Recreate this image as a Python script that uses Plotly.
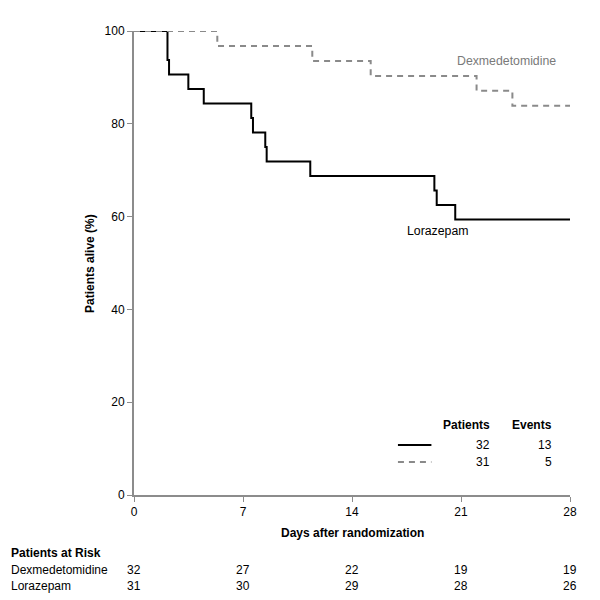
import plotly.graph_objects as go

# Kaplan-Meier steps (day, % alive after the step)
lora_days = [0, 2.15, 2.25, 3.49, 4.48, 7.53, 7.64, 8.43, 8.52, 11.32, 19.29, 19.44, 20.63, 28]
lora_surv = [100, 93.75, 90.625, 87.5, 84.375, 81.25, 78.125, 75.0, 71.875, 68.75, 65.625, 62.5, 59.375, 59.375]

dex_days = [0, 5.35, 11.45, 15.2, 22.0, 24.3, 28]
dex_surv = [100, 96.77, 93.55, 90.32, 87.10, 83.87, 83.87]

x_ticks = [0, 7, 14, 21, 28]
y_ticks = [0, 20, 40, 60, 80, 100]

risk_groups = ["Dexmedetomidine", "Lorazepam"]
risk_dex = [32, 27, 22, 19, 19]
risk_lora = [31, 30, 29, 28, 26]

legend_patients = [32, 31]
legend_events = [13, 5]

FONT = "Liberation Sans, Arial, Helvetica, sans-serif"
GREY = "#8a8a8a"
AXIS = "#8c8c8c"

fig = go.Figure()
fig.add_trace(go.Scatter(x=lora_days, y=lora_surv, mode="lines", line_shape="hv",
                         line=dict(color="black", width=2), cliponaxis=False,
                         showlegend=False, hoverinfo="skip"))
fig.add_trace(go.Scatter(x=dex_days, y=dex_surv, mode="lines", line_shape="hv",
                         line=dict(color=GREY, width=2, dash="6px,5px"), cliponaxis=False,
                         showlegend=False, hoverinfo="skip"))

ann = []
# curve labels
ann.append(dict(x=23.9, y=93.6, xref="x", yref="y", text="Dexmedetomidine", showarrow=False,
                font=dict(color="#7a7a7a", size=12.3)))
ann.append(dict(x=19.5, y=56.9, xref="x", yref="y", text="Lorazepam", showarrow=False,
                font=dict(color="black", size=12.3)))

# legend table
ann.append(dict(x=23.0, y=15.1, xref="x", yref="y", text="<b>Patients</b>", showarrow=False,
                xanchor="right", font=dict(size=12)))
ann.append(dict(x=27.0, y=15.1, xref="x", yref="y", text="<b>Events</b>", showarrow=False,
                xanchor="right", font=dict(size=12)))
row_y = [10.8, 7.1]
for i in range(2):
    ann.append(dict(x=23.0, y=row_y[i], xref="x", yref="y", text=str(legend_patients[i]),
                    showarrow=False, xanchor="right", font=dict(size=12)))
    ann.append(dict(x=27.0, y=row_y[i], xref="x", yref="y", text=str(legend_events[i]),
                    showarrow=False, xanchor="right", font=dict(size=12)))

shapes = [
    dict(type="line", xref="x", yref="y", x0=16.95, x1=19.1, y0=row_y[0], y1=row_y[0],
         line=dict(color="black", width=2)),
    dict(type="line", xref="x", yref="y", x0=16.95, x1=19.1, y0=row_y[1], y1=row_y[1],
         line=dict(color=GREY, width=2, dash="6px,5px")),
]

# axis titles
ann.append(dict(x=14, y=-0.082, xref="x", yref="paper", text="<b>Days after randomization</b>",
                showarrow=False, font=dict(size=12), yanchor="middle"))
ann.append(dict(x=-0.101, y=0.5, xref="paper", yref="paper", text="<b>Patients alive (%)</b>",
                showarrow=False, textangle=-90, xanchor="center", yanchor="middle",
                font=dict(size=12)))

# patients at risk table
left = -0.287
ann.append(dict(x=left, y=-0.125, xref="paper", yref="paper", text="<b>Patients at Risk</b>",
                showarrow=False, xanchor="left", yanchor="middle", font=dict(size=12)))
for name, vals, py in [(risk_groups[0], risk_dex, -0.162),
                       (risk_groups[1], risk_lora, -0.196)]:
    ann.append(dict(x=left, y=py, xref="paper", yref="paper", text=name, showarrow=False,
                    xanchor="left", yanchor="middle", font=dict(size=12)))
    for d, v in zip(x_ticks, vals):
        ann.append(dict(x=d, y=py, xref="x", yref="paper", text=str(v), showarrow=False,
                        xanchor="center", yanchor="middle", font=dict(size=12)))

fig.update_layout(
    width=600, height=600,
    margin=dict(l=126, r=38, t=23, b=113),
    paper_bgcolor="white", plot_bgcolor="white",
    font=dict(family=FONT, size=12, color="black"),
    annotations=ann, shapes=shapes, showlegend=False,
)
fig.update_xaxes(range=[0, 28], tickvals=x_ticks, showgrid=False, zeroline=False,
                 showline=True, linecolor=AXIS, linewidth=2, ticks="outside",
                 ticklen=5, tickcolor=AXIS, tickwidth=1, tickfont=dict(size=12))
fig.update_yaxes(range=[0, 100], tickvals=y_ticks, showgrid=False, zeroline=False,
                 showline=True, linecolor=AXIS, linewidth=2, ticks="outside",
                 ticklen=5, tickcolor=AXIS, tickwidth=1, tickfont=dict(size=12))

fig.write_html("out.html")
